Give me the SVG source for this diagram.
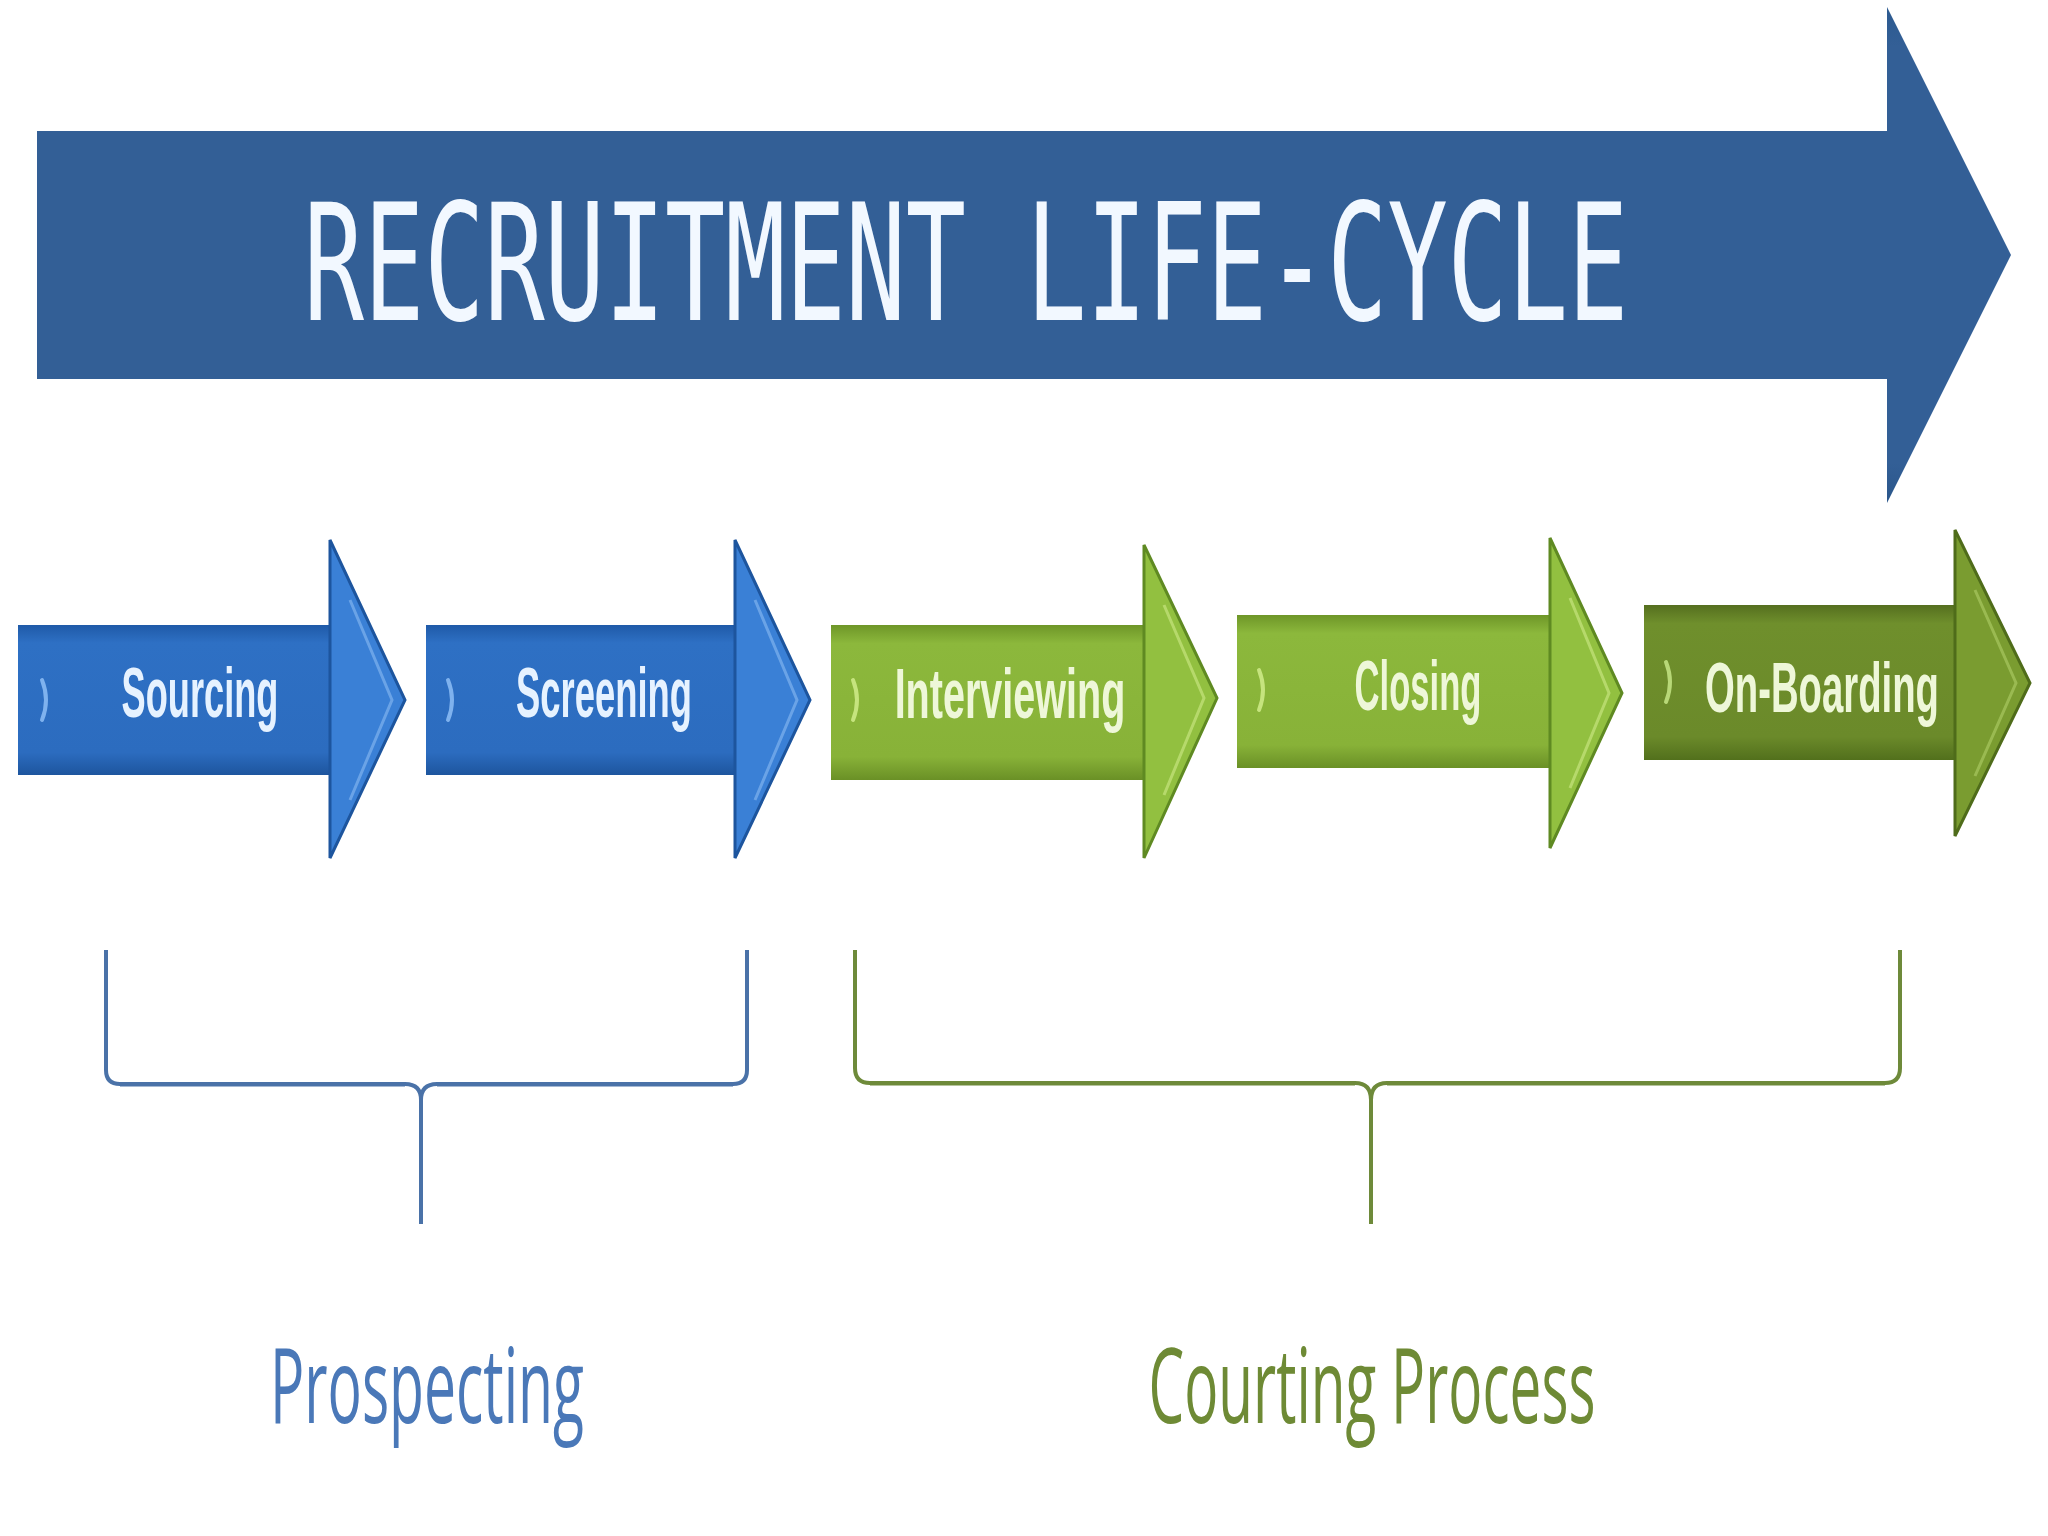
<svg xmlns="http://www.w3.org/2000/svg" width="2048" height="1536" viewBox="0 0 2048 1536">
<defs>
<linearGradient id="gBlue" x1="0" y1="0" x2="0" y2="1">
<stop offset="0" stop-color="#1f5aa8"/><stop offset="0.12" stop-color="#2e70c4"/><stop offset="0.85" stop-color="#2c6cbf"/><stop offset="1" stop-color="#1d559e"/>
</linearGradient>
<linearGradient id="gGreen" x1="0" y1="0" x2="0" y2="1">
<stop offset="0" stop-color="#6e9628"/><stop offset="0.12" stop-color="#8cb83c"/><stop offset="0.85" stop-color="#88b238"/><stop offset="1" stop-color="#6a9026"/>
</linearGradient>
<linearGradient id="gDark" x1="0" y1="0" x2="0" y2="1">
<stop offset="0" stop-color="#556f1f"/><stop offset="0.12" stop-color="#6f8f2c"/><stop offset="0.85" stop-color="#6b8a2a"/><stop offset="1" stop-color="#52701c"/>
</linearGradient>
<linearGradient id="gBig" x1="0" y1="0" x2="0" y2="1">
<stop offset="0" stop-color="#2c5a90"/><stop offset="0.08" stop-color="#335f96"/><stop offset="0.92" stop-color="#335f96"/><stop offset="1" stop-color="#2a568a"/>
</linearGradient>
</defs>
<style>
.step{font-family:"Liberation Sans",Arial,sans-serif;font-weight:bold;font-size:70px;text-anchor:middle}
.bt{fill:#e6f2ff}
.gt{fill:#eef7d8}
.bhead{fill:#3a80d6;stroke:#1d559e;stroke-width:3}
.ghead{fill:#92c040;stroke:#5f8a22;stroke-width:3}
.dhead{fill:#7a9c30;stroke:#4f6c1a;stroke-width:3}
.hl{fill:none;stroke-width:3;opacity:0.7}
.mark{fill:none;stroke-width:4;stroke-linecap:round}
.brace{fill:none;stroke-width:4;stroke-linejoin:round}
.grp{font-family:"Open Sans","Liberation Sans",sans-serif;font-size:104px;text-anchor:middle}
</style>
<rect width="2048" height="1536" fill="#ffffff"/>

<g id="title-arrow">
<path d="M37,131 H1887 V7 L2011,255 L1887,503 V379 H37 Z" fill="url(#gBig)"/>
<text transform="translate(966,320) scale(1,1.62)" x="0" y="0" font-family="DejaVu Sans Mono,Liberation Mono,monospace" font-size="100" fill="#f2f8ff" text-anchor="middle">RECRUITMENT LIFE-CYCLE</text>
</g>

<g id="sourcing">
<rect x="18" y="625" width="314" height="150" fill="url(#gBlue)"/>
<path class="bhead" d="M330,540 L405,700 L330,858 Z"/>
<path class="hl" stroke="#7fb2ee" d="M350,600 L392,700 L350,800"/>
<path class="mark" stroke="#7fb2ee" d="M42,680 Q50,700 42,720"/>
<text class="step bt" transform="translate(200,717) scale(0.517,1)" x="0" y="0">Sourcing</text>
</g>

<g id="screening">
<rect x="426" y="625" width="311" height="150" fill="url(#gBlue)"/>
<path class="bhead" d="M735,540 L810,700 L735,858 Z"/>
<path class="hl" stroke="#7fb2ee" d="M755,600 L797,700 L755,800"/>
<path class="mark" stroke="#7fb2ee" d="M448,680 Q456,700 448,720"/>
<text class="step bt" transform="translate(604,717) scale(0.52,1)" x="0" y="0">Screening</text>
</g>

<g id="interviewing">
<rect x="831" y="625" width="315" height="155" fill="url(#gGreen)"/>
<path class="ghead" d="M1144,545 L1217,698 L1144,858 Z"/>
<path class="hl" stroke="#c6e47e" d="M1164,605 L1204,698 L1164,795"/>
<path class="mark" stroke="#c6e47e" d="M853,680 Q861,700 853,720"/>
<text class="step gt" transform="translate(1010,718) scale(0.565,1)" x="0" y="0">Interviewing</text>
</g>

<g id="closing">
<rect x="1237" y="615" width="315" height="153" fill="url(#gGreen)"/>
<path class="ghead" d="M1550,538 L1622,693 L1550,848 Z"/>
<path class="hl" stroke="#c6e47e" d="M1570,598 L1609,693 L1570,788"/>
<path class="mark" stroke="#c6e47e" d="M1259,670 Q1267,690 1259,710"/>
<text class="step gt" transform="translate(1418,710) scale(0.495,1)" x="0" y="0">Closing</text>
</g>

<g id="onboarding">
<rect x="1644" y="605" width="313" height="155" fill="url(#gDark)"/>
<path class="dhead" d="M1955,530 L2030,683 L1955,836 Z"/>
<path class="hl" stroke="#a8c860" d="M1975,590 L2016,683 L1975,776"/>
<path class="mark" stroke="#b8d878" d="M1666,662 Q1674,682 1666,702"/>
<text class="step gt" transform="translate(1822,712) scale(0.547,1)" x="0" y="0">On-Boarding</text>
</g>

<g id="connectors">
<path class="brace" stroke="#4a72a8" d="M106,950 V1070 Q106,1084 120,1084 H405 Q421,1084 421,1100 V1224 M421,1100 Q421,1084 437,1084 H733 Q747,1084 747,1070 V950"/>
<path class="brace" stroke="#6e8a3a" d="M855,950 V1068 Q855,1083 870,1083 H1355 Q1371,1083 1371,1100 V1224 M1371,1100 Q1371,1083 1387,1083 H1885 Q1900,1083 1900,1068 V950"/>
<path fill="none" stroke="#4a72a8" stroke-width="3" d="M120,1085 H405 M437,1085 H733"/>
<path fill="none" stroke="#6e8a3a" stroke-width="3" d="M870,1084 H1355 M1387,1084 H1885"/>
</g>

<g id="prospecting">
<text class="grp" x="427" y="1423" fill="#4a78b8" textLength="314" lengthAdjust="spacingAndGlyphs">Prospecting</text>
</g>
<g id="courting">
<text class="grp" x="1372" y="1423" fill="#6e8a35" textLength="447" lengthAdjust="spacingAndGlyphs">Courting Process</text>
</g>
</svg>
